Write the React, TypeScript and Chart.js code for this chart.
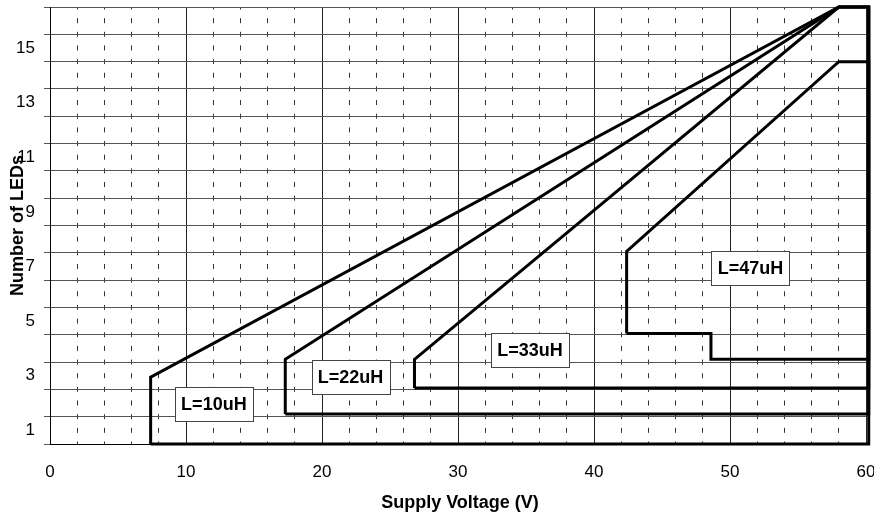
import React, { useEffect, useRef } from 'react';
import { Chart, registerables } from 'chart.js';

Chart.register(...registerables);

// Series outlines (x = supply voltage, y = number of LEDs)
const l10X = [7.4, 7.4, 58, 60.2, 60.2, 7.4];
const l10Y = [0, 2.45, 16, 16, 0, 0];
const l22X = [17.3, 17.3, 58, 60.2, 60.2, 17.3];
const l22Y = [1.1, 3.1, 16, 16, 1.1, 1.1];
const l33X = [26.8, 26.8, 58, 60.2, 60.2, 26.8];
const l33Y = [2.05, 3.1, 16, 16, 2.05, 2.05];
const l47X = [42.4, 42.4, 58, 60.2, 60.2, 48.6, 48.6, 42.4];
const l47Y = [4.05, 7.05, 14, 14, 3.1, 3.1, 4.05, 4.05];

const seriesNames = ['L=10uH', 'L=22uH', 'L=33uH', 'L=47uH'];
const labelX = [12.05, 22.1, 35.3, 51.5];
const labelY = [1.45, 2.45, 3.45, 6.45];

const yTickLabels = [1, 3, 5, 7, 9, 11, 13, 15];
const xTitle = 'Supply Voltage (V)';
const yTitle = 'Number of LEDs';

const FONT = '"Liberation Sans", Arial, sans-serif';

const toPoints = (xs: number[], ys: number[]) => xs.map((x, i) => ({ x, y: ys[i] }));

const overlayPlugin = {
  id: 'overlay',
  afterDatasetsDraw(chart: any) {
    const { ctx } = chart;
    const x = chart.scales.x;
    const y = chart.scales.y;
    ctx.save();
    ctx.font = `bold 18px ${FONT}`;
    ctx.textAlign = 'center';
    ctx.textBaseline = 'middle';
    seriesNames.forEach((name, i) => {
      const cx = x.getPixelForValue(labelX[i]);
      const cy = y.getPixelForValue(labelY[i]);
      const w = Math.round(ctx.measureText(name).width + 12);
      const h = 34;
      const left = Math.round(cx - w / 2);
      const top = Math.round(cy - h / 2);
      ctx.fillStyle = '#ffffff';
      ctx.fillRect(left, top, w, h);
      ctx.strokeStyle = '#444';
      ctx.lineWidth = 1;
      ctx.strokeRect(left + 0.5, top + 0.5, w, h);
      ctx.fillStyle = '#000';
      ctx.fillText(name, cx, cy + 1);
    });
    ctx.restore();
  },
  afterDraw(chart: any) {
    const { ctx, chartArea } = chart;
    ctx.save();
    ctx.fillStyle = '#000';
    ctx.font = `bold 18px ${FONT}`;
    ctx.textAlign = 'center';
    ctx.textBaseline = 'middle';
    ctx.fillText(xTitle, (chartArea.left + chartArea.right) / 2 + 2, 503);
    ctx.translate(18, (chartArea.top + chartArea.bottom) / 2);
    ctx.rotate(-Math.PI / 2);
    ctx.fillText(yTitle, 0, 0);
    ctx.restore();
  },
};

export default function App() {
  const ref = useRef<HTMLCanvasElement>(null);
  useEffect(() => {
    document.body.style.margin = '0';
    const lineDs = (label: string, xs: number[], ys: number[]) => ({
      label,
      data: toPoints(xs, ys),
      borderColor: '#000',
      backgroundColor: '#000',
      borderWidth: 3,
      pointRadius: 0,
      tension: 0,
      fill: false,
      clip: false as any,
      borderJoinStyle: 'miter' as const,
    });
    const chart = new Chart(ref.current!, {
      type: 'line',
      data: {
        datasets: [
          lineDs(seriesNames[0], l10X, l10Y),
          lineDs(seriesNames[1], l22X, l22Y),
          lineDs(seriesNames[2], l33X, l33Y),
          lineDs(seriesNames[3], l47X, l47Y),
        ],
      },
      options: {
        responsive: false,
        animation: false,
        layout: { padding: { left: 0, right: 8, top: 7, bottom: 0 } },
        plugins: { legend: { display: false }, tooltip: { enabled: false } },
        scales: {
          x: {
            type: 'linear',
            position: 'bottom',
            min: 0,
            max: 60,
            ticks: {
              stepSize: 10,
              color: '#000',
              font: { family: FONT, size: 17 },
              padding: 18,
              maxRotation: 0,
            },
            grid: { color: '#222', lineWidth: 1, drawTicks: false },
            border: { display: true, color: '#000', width: 1 },
            afterFit: (s: any) => {
              s.height = 75;
              s.paddingLeft = 0;
              s.paddingRight = 0;
            },
          },
          x2: {
            type: 'linear',
            position: 'bottom',
            min: 0,
            max: 60,
            ticks: { stepSize: 2, display: false },
            grid: {
              color: (c: any) => (c.tick && c.tick.value % 10 === 0 ? 'rgba(0,0,0,0)' : '#333'),
              lineWidth: 1,
              drawTicks: false,
            },
            border: { display: false, dash: [5, 8.656], dashOffset: 2.5 },
            afterFit: (s: any) => {
              s.height = 0;
              s.paddingLeft = 0;
              s.paddingRight = 0;
            },
          },
          y: {
            type: 'linear',
            min: 0,
            max: 16,
            ticks: {
              stepSize: 1,
              color: '#000',
              font: { family: FONT, size: 17 },
              padding: 9,
              labelOffset: 13.66,
              callback: (v: any) => (yTickLabels.includes(Number(v)) ? String(v) : ''),
            },
            grid: { color: '#555', lineWidth: 1, drawTicks: true, tickLength: 6 },
            border: { display: true, color: '#000', width: 1 },
            afterFit: (s: any) => {
              s.width = 50;
              s.paddingTop = 0;
              s.paddingBottom = 0;
            },
          },
        },
      },
      plugins: [overlayPlugin],
    });
    return () => chart.destroy();
  }, []);
  return (
    <div style={{ width: 874, height: 519 }}>
      <canvas ref={ref} width={874} height={519} />
    </div>
  );
}
